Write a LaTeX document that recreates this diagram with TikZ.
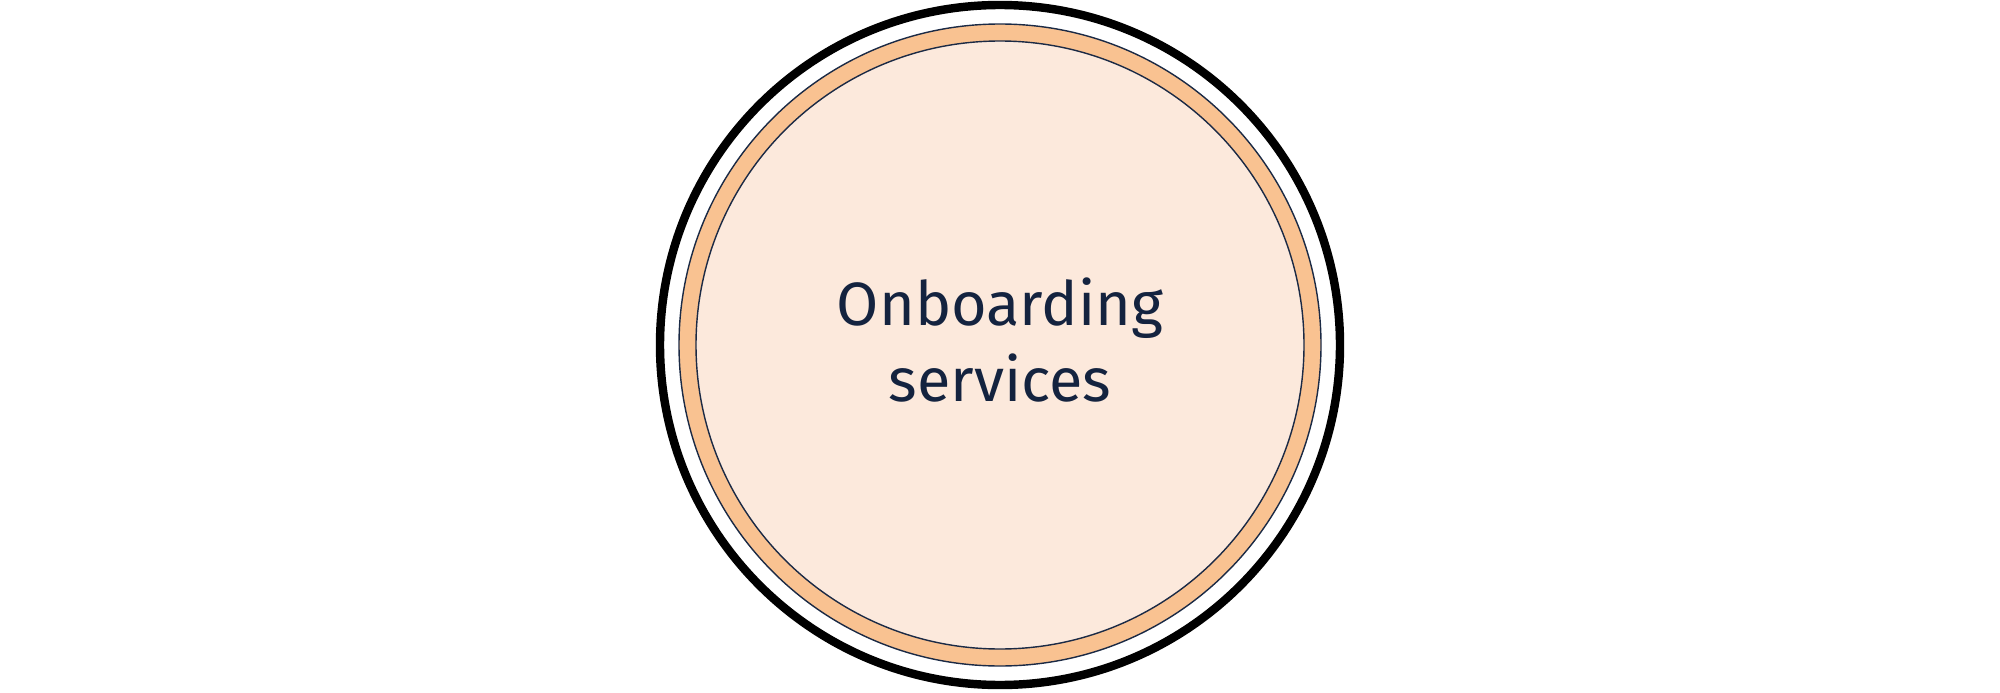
\documentclass[tikz,border=0pt]{standalone}
\usepackage{fontspec}
\setmainfont{Fira Sans}
\usepackage{xcolor}
\definecolor{RingOrange}{HTML}{F9C291}
\definecolor{CoreFill}{HTML}{FCE9DC}
\definecolor{EdgeNavy}{HTML}{1B2A45}
\definecolor{TextNavy}{HTML}{14233F}

\begin{document}
\begin{tikzpicture}
                \useasboundingbox (0,0) rectangle (20,6.92);
                \coordinate (c) at (10,3.47);

                % Outer ring
                \draw[black, line width=2.4pt] (c) circle (3.40);

                % Orange band
                \fill[RingOrange] (c) circle (3.21);
                \draw[EdgeNavy, line width=0.4pt] (c) circle (3.21);

                % Core
                \fill[CoreFill] (c) circle (3.04);
                \draw[EdgeNavy, line width=0.4pt] (c) circle (3.04);

                % Label
                \node[font=\fontsize{17.4}{21.5}\selectfont, TextNavy, align=center] (label) at (10,3.52) {Onboarding\\services};
            \end{tikzpicture}
\end{document}
